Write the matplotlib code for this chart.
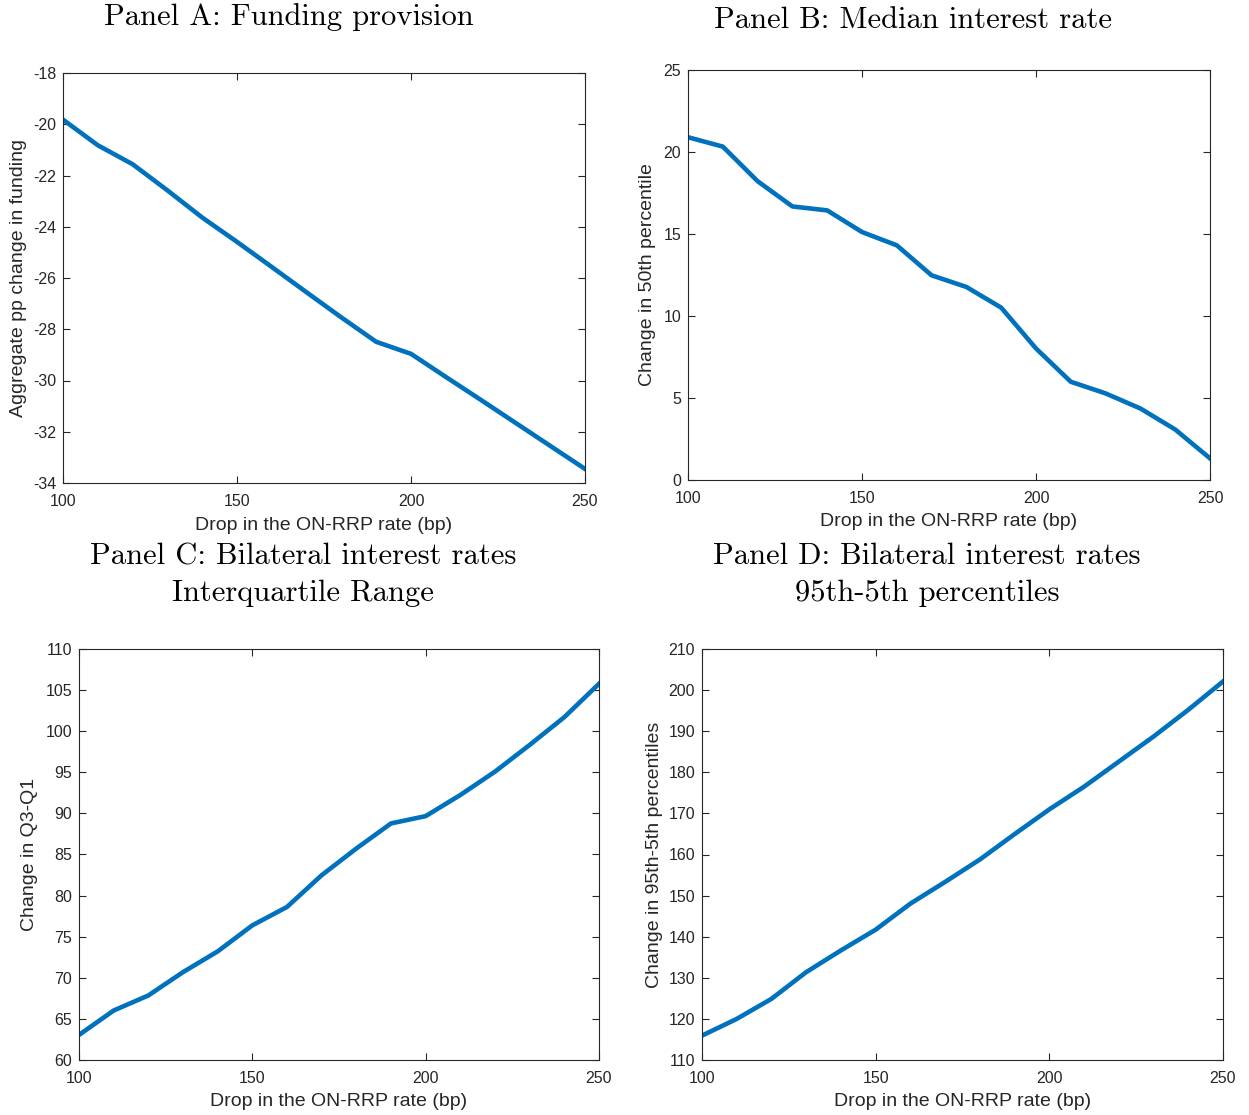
import matplotlib
matplotlib.use("Agg")
import matplotlib.pyplot as plt

plt.rcParams['font.family'] = ['Liberation Sans', 'DejaVu Sans']
plt.rcParams['mathtext.fontset'] = 'cm'

x_drop = [100, 110, 120, 130, 140, 150, 160, 170, 180, 190, 200, 210, 220, 230, 240, 250]
funding = [-19.82, -20.82, -21.56, -22.58, -23.64, -24.59, -25.57, -26.56, -27.54, -28.49,
           -28.96, -29.86, -30.75, -31.65, -32.55, -33.45]
median_rate = [20.90, 20.33, 18.22, 16.68, 16.44, 15.12, 14.31, 12.48, 11.77, 10.51,
               8.02, 5.99, 5.28, 4.36, 3.08, 1.32]
iqr = [63.05, 66.02, 67.85, 70.69, 73.21, 76.38, 78.62, 82.48, 85.73, 88.78,
       89.67, 92.24, 95.08, 98.33, 101.71, 105.77]
p95_5 = [115.93, 120.0, 124.88, 131.38, 136.67, 141.71, 148.05, 153.33, 158.78, 164.96,
         170.98, 176.5, 182.6, 188.7, 195.2, 202.1]

titles = ["Panel A: Funding provision", "Panel B: Median interest rate",
          "Panel C: Bilateral interest rates\nInterquartile Range",
          "Panel D: Bilateral interest rates\n95th-5th percentiles"]
ylabels = ["Aggregate pp change in funding", "Change in 50th percentile",
           "Change in Q3-Q1", "Change in 95th-5th percentiles"]
xlabel = "Drop in the ON-RRP rate (bp)"
yticks = [list(range(-34, -17, 2)), list(range(0, 26, 5)),
          list(range(60, 111, 5)), list(range(110, 211, 10))]
series = [funding, median_rate, iqr, p95_5]

W, H = 1249, 1115
fig = plt.figure(figsize=(W / 100, H / 100), dpi=100)

# pixel boxes: left, top, right, bottom
boxes = [(63, 73, 585, 483), (688, 70, 1210, 480),
         (79, 649, 599, 1060), (702, 649, 1223, 1060)]
title_pos = [(289, 17), (913, 20), (303, 575), (927, 575)]
ylab_x = [19, 648, 30, 654]
xlab_y = [526, 522, 1101, 1101]

edge = '#262626'
for i in range(4):
    l, t, r, b = boxes[i]
    ax = fig.add_axes([l / W, 1 - b / H, (r - l) / W, (b - t) / H])
    ax.plot(x_drop, series[i], color='#0072BD', lw=3.3, solid_joinstyle='round')
    ax.set_xlim(100, 250)
    ax.set_ylim(yticks[i][0], yticks[i][-1])
    ax.set_xticks([100, 150, 200, 250])
    ax.set_yticks(yticks[i])
    ax.set_yticklabels([str(v) for v in yticks[i]])
    ax.tick_params(direction='in', top=True, right=True, length=5, width=0.8,
                   colors=edge, labelsize=11.5)
    ax.tick_params(axis='x', pad=8)
    ax.tick_params(axis='y', pad=5)
    for s in ax.spines.values():
        s.set_color(edge)
        s.set_linewidth(0.8)
    ax.set_xlabel(xlabel, fontsize=14, color=edge)
    ax.xaxis.set_label_coords(0.5, 1 - (xlab_y[i] - t) / (b - t), transform=ax.transAxes)
    ax.set_ylabel(ylabels[i], fontsize=14, color=edge)
    ax.yaxis.set_label_coords((ylab_x[i] - l) / (r - l), 0.5, transform=ax.transAxes)
    ax.xaxis.label.set_va('center')
    ax.yaxis.label.set_va('center')
    tx, ty = title_pos[i]
    fig.text(tx / W, 1 - ty / H, titles[i], ha='center', va='center',
             fontsize=22, family='cmr10', linespacing=1.42, color='black')

fig.savefig("out.png", dpi=100)
